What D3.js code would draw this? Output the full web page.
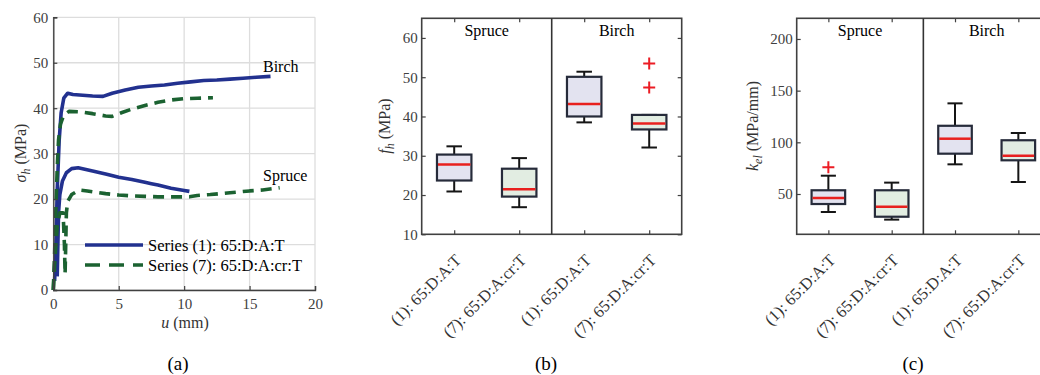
<!DOCTYPE html>
<html>
<head>
<meta charset="utf-8">
<script src="https://cdn.jsdelivr.net/npm/d3@7"></script>
<style>
	body { margin: 0; background: #fff; }
	svg { display: block; font-family: "Liberation Serif", "Times New Roman", serif; }
</style>
</head>
<body>
<div id="chart"></div>
<script>

// (a) load-slip curves, [u (mm), sigma_h (MPa)]
var birchS1 = [[0.1,2],[0.2,10],[0.3,22],[0.45,33],[0.6,39],[0.8,42.2],[1.1,43.3],[1.5,43.0],[2,42.9],[3,42.7],[3.8,42.6],
	[4.5,43.3],[5.5,44.0],[6.5,44.6],[7.5,44.9],[8.5,45.1],[9.5,45.5],[10.5,45.8],[11.5,46.1],[12.5,46.2],[13.5,46.4],
	[14.5,46.6],[15.5,46.8],[16.6,47.0]];
var birchS7 = [[0,0],[0.1,8],[0.2,18],[0.3,27],[0.4,33],[0.55,36.5],[0.8,38.5],[1.2,39.3],[2,39.2],[3,38.8],[4,38.3],
	[4.5,38.2],[5.2,39.0],[6,39.8],[7,40.6],[8,41.3],[9,41.8],[10,42.1],[11,42.2],[12.2,42.3]];
var spruceS1 = [[0.3,3],[0.35,10],[0.4,17],[0.5,21],[0.7,24],[1.0,25.8],[1.4,26.7],[1.9,26.9],[3,26.2],[4,25.5],[5,24.8],
	[6,24.3],[7,23.7],[7.5,23.4],[8,23.1],[9,22.4],[10,21.9],[10.4,21.7]];
var spruceS7 = [[0,0],[0.15,8],[0.3,14],[0.5,17],[0.75,17],[0.85,10],[0.9,3.5],[0.95,10],[1.0,17],[1.1,19.5],[1.4,21],
	[2,22],[2.6,21.8],[4,21.2],[5,20.9],[6,20.7],[7,20.6],[8,20.5],[9,20.5],[10.4,20.5],[11,20.8],[12,21.0],[13.5,21.4],
	[15,21.8],[16,22.0],[17.3,22.5]];

// (b), (c) box plot statistics
var groups = ["(1): 65:D:A:T", "(7): 65:D:A:cr:T", "(1): 65:D:A:T", "(7): 65:D:A:cr:T"];
var species = ["Spruce", "Birch"];

var fhLow = [20.9, 16.9, 38.5, 32.1],
	fhQ1 = [23.7, 19.6, 40.0, 36.7],
	fhMed = [27.8, 21.5, 43.2, 38.2],
	fhQ3 = [30.3, 26.7, 50.1, 40.4],
	fhHigh = [32.4, 29.4, 51.4, 40.4],
	fhOut = [[], [], [], [47.4, 53.5]];

var kelLow = [32.6, 25.2, 78.7, 61.6],
	kelQ1 = [40.3, 28.0, 89.0, 82.6],
	kelMed = [46.1, 37.7, 103.5, 87.0],
	kelQ3 = [53.6, 53.6, 116.0, 102.0],
	kelHigh = [67.7, 61.0, 137.7, 109.0],
	kelOut = [[75.8], [], [], []];

var blue = "#22318f", green = "#1b6231", axisCol = "#404040";
var serif = "'Liberation Serif', 'Times New Roman', serif";

const svg = d3.select("#chart").append("svg")
	.attr("width", 1040)
	.attr("height", 375);

function styleTicks(a){
	a.selectAll(".tick text")
		.style("font-family", serif)
		.style("font-size", "15px")
		.style("fill", axisCol);
	a.selectAll(".tick line").style("stroke", axisCol).style("stroke-width", 1.2);
}

//--- panel (a)
function drawCurves(){
	var x = d3.scaleLinear().domain([0, 20]).range([53.3, 315]),
		y = d3.scaleLinear().domain([0, 60]).range([290, 17.3]);
	var g = svg.append("g");

	// grid
	g.selectAll(".gx").data(x.ticks(4)).enter().append("line")
		.attr("x1", d => x(d)).attr("x2", d => x(d))
		.attr("y1", y(0)).attr("y2", y(60))
		.style("stroke", "#dddddd").style("stroke-width", 1.3);
	g.selectAll(".gy").data(y.ticks(6)).enter().append("line")
		.attr("x1", x(0)).attr("x2", x(20))
		.attr("y1", d => y(d)).attr("y2", d => y(d))
		.style("stroke", "#dddddd").style("stroke-width", 1.3);

	var line = d3.line().x(d => x(d[0])).y(d => y(d[1]));

	var curves = [
		{d: birchS1, c: blue, dash: null},
		{d: spruceS1, c: blue, dash: null},
		{d: birchS7, c: green, dash: "11,7"},
		{d: spruceS7, c: green, dash: "11,7"}
	];
	g.selectAll(".curve").data(curves).enter().append("path")
		.attr("d", d => line(d.d))
		.style("fill", "none")
		.style("stroke", d => d.c)
		.style("stroke-width", 3.6)
		.style("stroke-dasharray", d => d.dash)
		.style("stroke-linejoin", "round");

	// axes, ticks inward
	var xAxis = g.append("g").attr("transform", "translate(0," + y(0) + ")")
		.call(d3.axisBottom(x).ticks(4).tickSize(-4).tickPadding(8));
	var yAxis = g.append("g").attr("transform", "translate(" + x(0) + ",0)")
		.call(d3.axisLeft(y).ticks(6).tickSize(-4).tickPadding(5));
	[xAxis, yAxis].forEach(a => {
		a.select(".domain").style("stroke", axisCol).style("stroke-width", 1.4);
		styleTicks(a);
	});

	// legend
	var legend = [["Series (1): 65:D:A:T", blue, null], ["Series (7): 65:D:A:cr:T", green, "15,9"]];
	legend.forEach((l, i) => {
		g.append("line")
			.attr("x1", 85).attr("x2", 143)
			.attr("y1", 245 + i * 20).attr("y2", 245 + i * 20)
			.style("stroke", l[1]).style("stroke-width", 3.6)
			.style("stroke-dasharray", l[2]);
		g.append("text")
			.attr("x", 148).attr("y", 245 + i * 20).attr("dy", "0.35em")
			.style("font-size", "16.5px").text(l[0]);
	});

	g.append("text").attr("x", 263).attr("y", 72).style("font-size", "16px").text("Birch");
	g.append("text").attr("x", 263).attr("y", 181).style("font-size", "16px").text("Spruce");

	var xl = g.append("text").attr("x", 185).attr("y", 328)
		.attr("text-anchor", "middle").style("font-size", "16px").style("fill", "#333");
	xl.append("tspan").style("font-style", "italic").text("u");
	xl.append("tspan").text(" (mm)");

	var yl = g.append("text")
		.attr("transform", "translate(26,153) rotate(-90)")
		.attr("text-anchor", "middle").style("font-size", "16px").style("fill", "#333");
	yl.append("tspan").style("font-style", "italic").text("σ");
	yl.append("tspan").attr("dy", 4).style("font-size", "12px").style("font-style", "italic").text("h");
	yl.append("tspan").attr("dy", -4).text(" (MPa)");
}

//--- panels (b), (c)
function drawBoxes(opt){
	var x = d3.scaleLinear().domain([0.5, 4.5]).range([opt.left, opt.right]),
		y = d3.scaleLinear().domain(opt.domain).range([234.3, 18.3]);
	var g = svg.append("g");
	var step = x(2) - x(1),
		boxW = step * 0.53,
		capW = boxW * 0.45;

	var stats = groups.map((name, i) => ({
		i: i, lo: opt.low[i], q1: opt.q1[i], med: opt.med[i], q3: opt.q3[i], hi: opt.high[i], out: opt.out[i]
	}));

	var box = g.selectAll(".box").data(stats).enter().append("g")
		.attr("transform", d => "translate(" + x(d.i + 1) + ",0)");

	// whiskers
	box.append("line").attr("x1", 0).attr("x2", 0)
		.attr("y1", d => y(d.q3)).attr("y2", d => y(d.hi))
		.style("stroke", "#151515").style("stroke-width", 2);
	box.append("line").attr("x1", 0).attr("x2", 0)
		.attr("y1", d => y(d.q1)).attr("y2", d => y(d.lo))
		.style("stroke", "#151515").style("stroke-width", 2);
	box.append("line").attr("x1", -capW / 2).attr("x2", capW / 2)
		.attr("y1", d => y(d.hi)).attr("y2", d => y(d.hi))
		.style("stroke", "#151515").style("stroke-width", 2);
	box.append("line").attr("x1", -capW / 2).attr("x2", capW / 2)
		.attr("y1", d => y(d.lo)).attr("y2", d => y(d.lo))
		.style("stroke", "#151515").style("stroke-width", 2);

	box.append("rect")
		.attr("x", -boxW / 2).attr("width", boxW)
		.attr("y", d => y(d.q3))
		.attr("height", d => y(d.q1) - y(d.q3))
		.style("fill", d => d.i % 2 === 0 ? "#e3e3f0" : "#e2ede2")
		.style("stroke", "#262b3a").style("stroke-width", 2.2);

	box.append("line")
		.attr("x1", -boxW / 2 + 1).attr("x2", boxW / 2 - 1)
		.attr("y1", d => y(d.med)).attr("y2", d => y(d.med))
		.style("stroke", "#e8201e").style("stroke-width", 2.5);

	// outliers
	box.selectAll(".out").data(d => d.out).enter().append("path")
		.attr("d", d => "M-6," + y(d) + "h12M0," + (y(d) - 6) + "v12")
		.style("stroke", "#ec1c24").style("stroke-width", 2);

	// frame with inward ticks
	var yTicks = opt.ticks;
	var axes = [
		g.append("g").attr("transform", "translate(" + opt.left + ",0)")
			.call(d3.axisLeft(y).tickValues(yTicks).tickSize(-4).tickPadding(4)),
		g.append("g").attr("transform", "translate(" + opt.right + ",0)")
			.call(d3.axisRight(y).tickValues(yTicks).tickSize(-4).tickFormat("")),
		g.append("g").attr("transform", "translate(0,234.3)")
			.call(d3.axisBottom(x).tickValues([1, 2, 3, 4]).tickSize(-4).tickFormat("")),
		g.append("g").attr("transform", "translate(0,18.3)")
			.call(d3.axisTop(x).tickValues([1, 2, 3, 4]).tickSize(-4).tickFormat(""))
	];
	axes.forEach(a => { a.select(".domain").remove(); styleTicks(a); });

	g.append("rect")
		.attr("x", opt.left).attr("y", 18.3)
		.attr("width", opt.right - opt.left).attr("height", 216)
		.style("fill", "none").style("stroke", axisCol).style("stroke-width", 1.6);
	g.append("line")
		.attr("x1", x(2.5)).attr("x2", x(2.5)).attr("y1", 18.3).attr("y2", 234.3)
		.style("stroke", "#333").style("stroke-width", 1.6);

	species.forEach((s, i) => {
		g.append("text").attr("x", x(1.5 + 2 * i)).attr("y", 36)
			.attr("text-anchor", "middle").style("font-size", "16px").text(s);
	});

	// rotated category labels
	g.selectAll(".cat").data(groups).enter().append("text")
		.attr("transform", (d, i) => "translate(" + (x(i + 1) + 8) + ",261) rotate(-45)")
		.attr("text-anchor", "end")
		.style("font-size", "16.5px").style("fill", "#333")
		.text(d => d);

	var yl = g.append("text")
		.attr("transform", "translate(" + opt.labelX + ",126) rotate(-90)")
		.attr("text-anchor", "middle").style("font-size", "16px").style("fill", "#333");
	yl.append("tspan").style("font-style", "italic").text(opt.sym);
	yl.append("tspan").attr("dy", 4).style("font-size", "12px").style("font-style", "italic").text(opt.sub);
	yl.append("tspan").attr("dy", -4).text(opt.unit);
}

drawCurves();
drawBoxes({left: 421.7, right: 681.7, domain: [10, 65], ticks: [10, 20, 30, 40, 50, 60],
	low: fhLow, q1: fhQ1, med: fhMed, q3: fhQ3, high: fhHigh, out: fhOut,
	labelX: 390, sym: "f", sub: "h", unit: " (MPa)"});
drawBoxes({left: 796.7, right: 1050, domain: [11, 220], ticks: [50, 100, 150, 200],
	low: kelLow, q1: kelQ1, med: kelMed, q3: kelQ3, high: kelHigh, out: kelOut,
	labelX: 758, sym: "k", sub: "el", unit: " (MPa/mm)"});

// captions
[["(a)", 178], ["(b)", 546], ["(c)", 913]].forEach(c => {
	svg.append("text").attr("x", c[1]).attr("y", 363).attr("dy", "0.35em")
		.attr("text-anchor", "middle").style("font-size", "19px").text(c[0]);
});
</script>
</body>
</html>
